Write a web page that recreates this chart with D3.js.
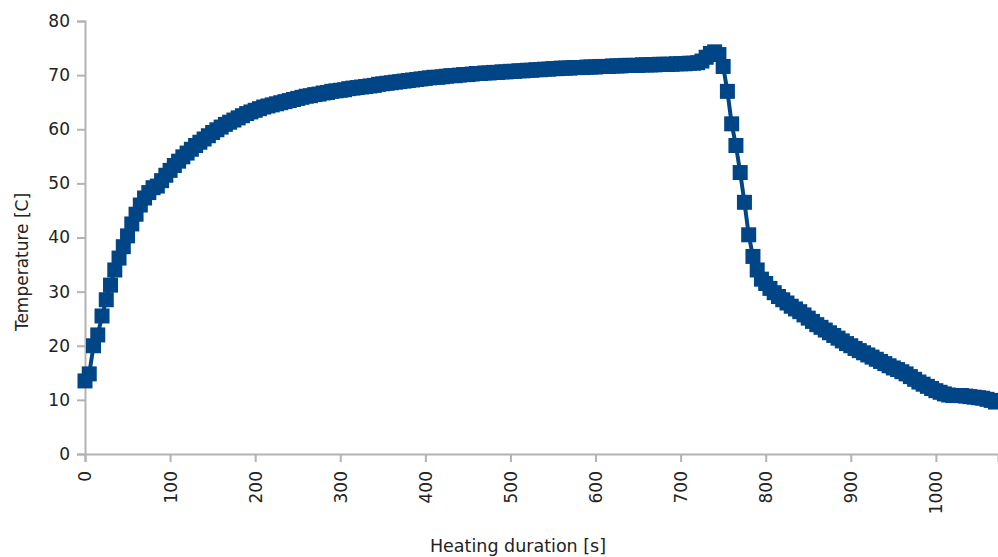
<!DOCTYPE html>
<html><head><meta charset="utf-8">
<script src="https://cdn.jsdelivr.net/npm/d3@7"></script>
<style>body{margin:0;background:#fff}svg{display:block}</style>
</head><body>
<svg id="c" width="998" height="557"></svg>
<script>
const times = d3.range(0, 1071, 5);
const temps = [
13.5,14.8,20.0,22.0,25.5,28.5,31.2,34.0,36.2,38.3,
40.3,42.5,44.3,46.0,47.3,48.3,49.2,49.5,50.5,51.5,
52.4,53.3,54.1,54.9,55.6,56.3,57.0,57.6,58.2,58.8,
59.4,59.9,60.4,60.9,61.3,61.7,62.1,62.5,62.9,63.2,
63.5,63.8,64.1,64.3,64.5,64.7,64.9,65.1,65.3,65.5,
65.7,65.9,66.1,66.2,66.4,66.5,66.7,66.8,67.0,67.1,
67.2,67.3,67.5,67.6,67.7,67.8,67.9,68.0,68.1,68.3,
68.4,68.5,68.6,68.7,68.8,68.9,69.0,69.1,69.2,69.3,
69.4,69.5,69.6,69.6,69.7,69.8,69.9,69.9,70.0,70.1,
70.1,70.2,70.3,70.3,70.4,70.4,70.5,70.5,70.6,70.6,
70.7,70.7,70.8,70.8,70.9,70.9,71.0,71.0,71.1,71.1,
71.2,71.2,71.3,71.3,71.3,71.4,71.4,71.4,71.5,71.5,
71.5,71.6,71.6,71.6,71.7,71.7,71.7,71.8,71.8,71.8,
71.8,71.9,71.9,71.9,71.9,72.0,72.0,72.0,72.0,72.1,
72.1,72.1,72.2,72.2,72.3,72.6,73.3,74.0,74.3,73.8,
71.6,67.0,61.0,57.0,52.0,46.5,40.5,36.5,34.0,32.3,
31.5,30.6,29.8,29.1,28.5,27.9,27.3,26.8,26.3,25.7,
25.1,24.5,23.9,23.4,22.9,22.4,21.9,21.4,20.9,20.4,
20.0,19.5,19.1,18.7,18.3,17.9,17.5,17.1,16.7,16.3,
15.9,15.6,15.2,14.8,14.3,13.8,13.3,12.9,12.5,12.1,
11.7,11.4,11.1,10.9,10.8,10.8,10.8,10.7,10.6,10.5,
10.4,10.3,10.1,9.9,9.6
];
const xTicks = [0,100,200,300,400,500,600,700,800,900,1000];
const yTicks = [0,10,20,30,40,50,60,70,80];
const xTitle = "Heating duration [s]";
const yTitle = "Temperature [C]";

const data = times.map((t,i)=>({t, v: temps[i]}));
const svg = d3.select("#c");
const x = d3.scaleLinear().domain([0,1073]).range([85,998]);
const y = d3.scaleLinear().domain([0,80]).range([454,21]);
const font = "'DejaVu Sans', sans-serif";
const axisCol = "#b3b3b3";

// y axis
const ya = svg.append("g").attr("transform","translate(85,0)")
  .call(d3.axisLeft(y).tickValues(yTicks).tickSize(8).tickPadding(7).tickFormat(d3.format("d")));
// x axis
const xa = svg.append("g").attr("transform","translate(0,454)")
  .call(d3.axisBottom(x).tickValues(xTicks).tickSize(8).tickFormat(d3.format("d")));
[ya,xa].forEach(a=>{
  a.select(".domain").attr("stroke",axisCol).attr("stroke-width",2);
  a.selectAll(".tick line").attr("stroke",axisCol).attr("stroke-width",2);
  a.selectAll("text").attr("fill","#222").style("font-family",font).style("font-size","17px");
});
xa.selectAll(".tick text")
  .attr("transform","rotate(-90)")
  .attr("text-anchor","end")
  .attr("x",-17).attr("y",0).attr("dy","0.35em");

// line + markers
const col = "#004586";
svg.append("path").datum(data)
  .attr("fill","none").attr("stroke",col).attr("stroke-width",4)
  .attr("d", d3.line().x(d=>x(d.t)).y(d=>y(d.v)));
const s = 15;
svg.append("g").selectAll("rect").data(data).join("rect")
  .attr("x",d=>x(d.t)-s/2).attr("y",d=>y(d.v)-s/2)
  .attr("width",s).attr("height",s).attr("fill",col);

// titles
svg.append("text").attr("x",518).attr("y",552).attr("text-anchor","middle")
  .style("font-family",font).style("font-size","17.5px").attr("fill","#222").text(xTitle);
svg.append("text").attr("transform","translate(28,262) rotate(-90)").attr("text-anchor","middle")
  .style("font-family",font).style("font-size","17px").attr("fill","#222").text(yTitle);
</script>
</body></html>
